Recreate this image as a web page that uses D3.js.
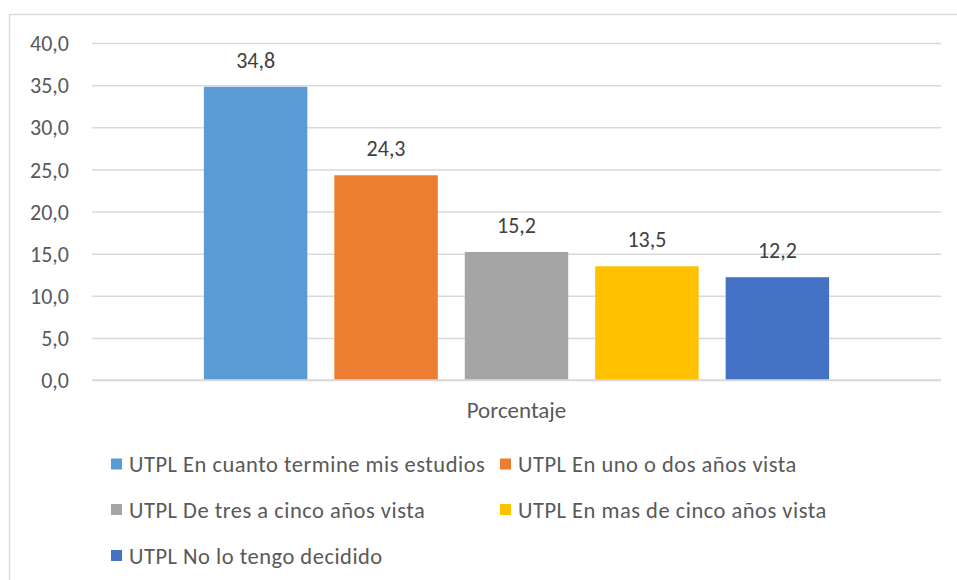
<!DOCTYPE html>
<html>
<head>
<meta charset="utf-8">
<script src="https://cdn.jsdelivr.net/npm/d3@7"></script>
<style>
  body { margin: 0; background: #fff; }
  svg { display: block; font-family: Carlito, Calibri, Lato, "Open Sans", sans-serif; }
</style>
</head>
<body>
<svg id="chart"></svg>
<script>
// data
var categories = ["Porcentaje"];
var series = [
    "UTPL En cuanto termine mis estudios",
    "UTPL En uno o dos años vista",
    "UTPL De tres a cinco años vista",
    "UTPL En mas de cinco años vista",
    "UTPL No lo tengo decidido"
];
var values = [34.8, 24.3, 15.2, 13.5, 12.2];
var colors = ["#5B9BD5", "#ED7D31", "#A5A5A5", "#FFC000", "#4472C4"];
var yTicks = [0, 5, 10, 15, 20, 25, 30, 35, 40];

var w = 957, h = 580;
var svg = d3.select("#chart").attr("width", w).attr("height", h);

var plot = {left: 92, right: 941, top: 43, bottom: 380};
var textColor = "#595959";
var fmt = function(v) { return v.toFixed(1).replace(".", ","); };

// chart frame
svg.append("rect")
    .attr("x", 9.5).attr("y", 14.5)
    .attr("width", 960).attr("height", 600)
    .attr("fill", "#fff")
    .attr("stroke", "#D9D9D9").attr("stroke-width", 1.3);

var y = d3.scaleLinear().domain([0, 40]).range([plot.bottom, plot.top]);

var x0 = d3.scaleBand()
    .domain(categories)
    .range([plot.left, plot.right])
    .paddingInner(0)
    .paddingOuter(0.179);

var x1 = d3.scaleBand()
    .domain(series)
    .range([x0(categories[0]), x0(categories[0]) + x0.bandwidth()])
    .paddingInner(0.207)
    .paddingOuter(0);

// gridlines + tick labels
var yAxis = d3.axisLeft(y)
    .tickValues(yTicks)
    .tickSize(-(plot.right - plot.left))
    .tickPadding(23)
    .tickFormat(fmt);

var gy = svg.append("g")
    .attr("transform", "translate(" + plot.left + ",0)")
    .call(yAxis);
gy.select(".domain").remove();
gy.selectAll(".tick line").attr("stroke", "#D9D9D9").attr("stroke-width", 1.5);
gy.selectAll(".tick text")
    .attr("fill", textColor)
    .style("font-size", "22px")
    .style("font-family", null)
    .attr("dy", "0.35em");
gy.attr("font-family", null).attr("font-size", null);

// bars
var bars = series.map(function(s, i) { return {name: s, value: values[i], color: colors[i]}; });

svg.selectAll("rect.bar")
    .data(bars)
    .enter().append("rect")
    .attr("class", "bar")
    .attr("x", function(d) { return x1(d.name); })
    .attr("width", x1.bandwidth())
    .attr("y", function(d) { return y(d.value); })
    .attr("height", function(d) { return y(0) - y(d.value); })
    .attr("fill", function(d) { return d.color; });

// baseline on top of bars
svg.append("line")
    .attr("x1", plot.left).attr("x2", plot.right)
    .attr("y1", y(0)).attr("y2", y(0))
    .attr("stroke", "#D9D9D9").attr("stroke-width", 1.5);

// value labels
svg.selectAll("text.val")
    .data(bars)
    .enter().append("text")
    .attr("class", "val")
    .attr("x", function(d) { return x1(d.name) + x1.bandwidth() / 2; })
    .attr("y", function(d) { return y(d.value) - 19; })
    .attr("text-anchor", "middle")
    .attr("fill", "#404040")
    .style("font-size", "22px")
    .text(function(d) { return fmt(d.value); });

// category label
svg.append("text")
    .attr("x", x0(categories[0]) + x0.bandwidth() / 2)
    .attr("y", 418)
    .attr("text-anchor", "middle")
    .attr("fill", textColor)
    .style("font-size", "23px")
    .text(categories[0]);

// legend
var legendCols = [111, 500];
var legendRows = [464, 509.5, 555.5];
var legend = svg.selectAll("g.legend")
    .data(bars)
    .enter().append("g")
    .attr("class", "legend")
    .attr("transform", function(d, i) {
        return "translate(" + legendCols[i % 2] + "," + legendRows[Math.floor(i / 2)] + ")";
    });

legend.append("rect")
    .attr("x", 0).attr("y", -5.5)
    .attr("width", 11).attr("height", 11)
    .attr("fill", function(d) { return d.color; });

legend.append("text")
    .attr("x", 18)
    .attr("y", 0)
    .attr("dy", "0.36em")
    .attr("fill", textColor)
    .style("font-size", "22.5px")
    .style("letter-spacing", "0.5px")
    .text(function(d) { return d.name; });
</script>
</body>
</html>
